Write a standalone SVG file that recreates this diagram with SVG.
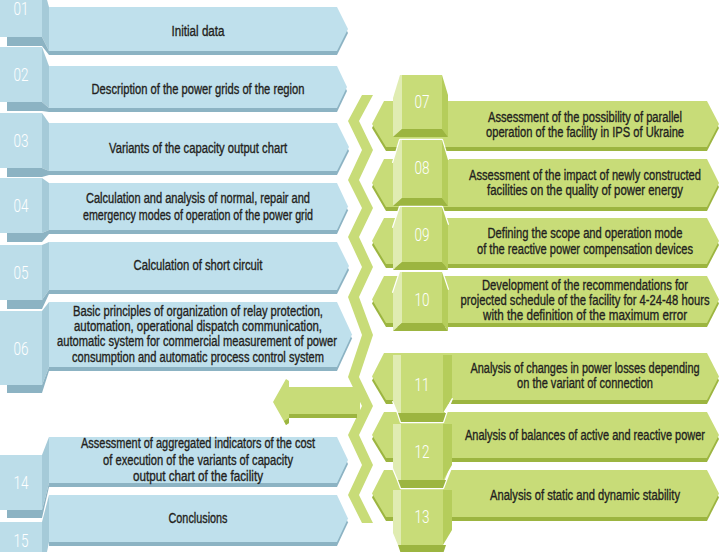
<svg xmlns="http://www.w3.org/2000/svg" width="720" height="552" viewBox="0 0 720 552">
<style>
.bb{fill:#bfe0ec}.bf{fill:#bcdde9}.bs{fill:#a5cad8}.bd{fill:#8cb3c3}
.gm{fill:#c8dc78}.gl{fill:#e0ecb2}.gb{fill:#b5cd5b}.gd{fill:#9cb540}
.edge{fill:none;stroke:#fff;stroke-width:2.4;stroke-linejoin:round}
.t{font-family:"Liberation Sans",Arial,sans-serif;font-size:14.5px;fill:#231f20;stroke:#231f20;stroke-width:0.35;text-anchor:middle}
.n{font-family:Roboto,"Liberation Sans",sans-serif;font-weight:300;font-size:17.5px;fill:#fff;text-anchor:middle}
</style>
<rect width="720" height="552" fill="#fff"/>

<!-- LEFT COLUMN -->
<g id="n01">
<polygon class="bd" points="49,11 337,11 348,33 337,55 49,55"/>
<polygon class="bb" points="49,7 337,7 348,29 337,51 49,51"/>
<rect class="bf" x="0" y="-18" width="42" height="55"/>
<polygon class="bs" points="42,-18 49,7 49,51 42,37"/>
<polygon class="bd" points="7,37 42,37 49,51 49,55 42,46 7,46"/>
<text class="n" x="21" y="15" textLength="15" lengthAdjust="spacingAndGlyphs">01</text>
<text class="t" transform="matrix(0.74 0 0 1 198 36)" textLength="71.6" lengthAdjust="spacingAndGlyphs">Initial data</text>
</g>
<g id="n02">
<polygon class="bd" points="49,70 337,70 347,91 337,112 49,112"/>
<polygon class="bb" points="49,66 337,66 347,87 337,108 49,108"/>
<rect class="bf" x="0" y="47" width="42" height="55"/>
<polygon class="bs" points="42,47 49,66 49,108 42,102"/>
<polygon class="bd" points="7,102 42,102 49,108 49,112 42,111 7,111"/>
<text class="n" x="21" y="81" textLength="15" lengthAdjust="spacingAndGlyphs">02</text>
<text class="t" transform="matrix(0.74 0 0 1 198 94)" textLength="287.8" lengthAdjust="spacingAndGlyphs">Description of the power grids of the region</text>
</g>
<g id="n03">
<polygon class="bd" points="49,127 337,127 349,151 337,175 49,175"/>
<polygon class="bb" points="49,123 337,123 349,147 337,171 49,171"/>
<rect class="bf" x="0" y="113" width="42" height="55"/>
<polygon class="bs" points="42,113 49,123 49,171 42,168"/>
<polygon class="bd" points="7,168 42,168 49,171 49,175 42,177 7,177"/>
<text class="n" x="21" y="147" textLength="15" lengthAdjust="spacingAndGlyphs">03</text>
<text class="t" transform="matrix(0.74 0 0 1 198 153)" textLength="240.5" lengthAdjust="spacingAndGlyphs">Variants of the capacity output chart</text>
</g>
<g id="n04">
<polygon class="bd" points="49,187 337,187 348,210.5 337,234 49,234"/>
<polygon class="bb" points="49,183 337,183 348,206.5 337,230 49,230"/>
<rect class="bf" x="0" y="178" width="42" height="55"/>
<polygon class="bs" points="42,178 49,183 49,230 42,233"/>
<polygon class="bd" points="7,233 42,233 49,230 49,234 42,242 7,242"/>
<text class="n" x="21" y="212" textLength="15" lengthAdjust="spacingAndGlyphs">04</text>
<text class="t" transform="matrix(0.74 0 0 1 198 203)" textLength="302.7" lengthAdjust="spacingAndGlyphs">Calculation and analysis of normal, repair and</text>
<text class="t" transform="matrix(0.74 0 0 1 198 220)" textLength="310.8" lengthAdjust="spacingAndGlyphs">emergency modes of operation of the power grid</text>
</g>
<g id="n05">
<polygon class="bd" points="49,246 337,246 349,270 337,294 49,294"/>
<polygon class="bb" points="49,242 337,242 349,266 337,290 49,290"/>
<rect class="bf" x="0" y="245" width="42" height="55"/>
<polygon class="bs" points="42,245 49,242 49,290 42,300"/>
<polygon class="bd" points="7,300 42,300 49,290 49,294 42,309 7,309"/>
<text class="n" x="21" y="279" textLength="15" lengthAdjust="spacingAndGlyphs">05</text>
<text class="t" transform="matrix(0.74 0 0 1 198 270)" textLength="174.3" lengthAdjust="spacingAndGlyphs">Calculation of short circuit</text>
</g>
<g id="n06">
<polygon class="bd" points="49,306 337,306 352,338.5 337,371 49,371"/>
<polygon class="bb" points="49,302 337,302 352,334.5 337,367 49,367"/>
<rect class="bf" x="0" y="311" width="42" height="74"/>
<polygon class="bs" points="42,311 49,302 49,367 42,385"/>
<polygon class="bd" points="7,385 42,385 49,367 49,371 42,393 7,393"/>
<text class="n" x="21" y="355" textLength="15" lengthAdjust="spacingAndGlyphs">06</text>
<text class="t" transform="matrix(0.74 0 0 1 198 316)" textLength="337.8" lengthAdjust="spacingAndGlyphs">Basic principles of organization of relay protection,</text>
<text class="t" transform="matrix(0.74 0 0 1 198 331)" textLength="335.1" lengthAdjust="spacingAndGlyphs">automation, operational dispatch communication,</text>
<text class="t" transform="matrix(0.74 0 0 1 197 346)" textLength="378.4" lengthAdjust="spacingAndGlyphs">automatic system for commercial measurement of power</text>
<text class="t" transform="matrix(0.74 0 0 1 198 362)" textLength="340.5" lengthAdjust="spacingAndGlyphs">consumption and automatic process control system</text>
</g>
<g id="n14">
<polygon class="bd" points="49,441 337,441 348,464 337,487 49,487"/>
<polygon class="bb" points="49,437 337,437 348,460 337,483 49,483"/>
<rect class="bf" x="0" y="455" width="42" height="55"/>
<polygon class="bs" points="42,455 49,437 49,483 42,510"/>
<polygon class="bd" points="7,510 42,510 49,483 49,487 42,518 7,518"/>
<text class="n" x="21" y="489" textLength="15" lengthAdjust="spacingAndGlyphs">14</text>
<text class="t" transform="matrix(0.74 0 0 1 198 448)" textLength="316.2" lengthAdjust="spacingAndGlyphs">Assessment of aggregated indicators of the cost</text>
<text class="t" transform="matrix(0.74 0 0 1 198 465)" textLength="256.8" lengthAdjust="spacingAndGlyphs">of execution of the variants of capacity</text>
<text class="t" transform="matrix(0.74 0 0 1 198 481)" textLength="175.7" lengthAdjust="spacingAndGlyphs">output chart of the facility</text>
</g>
<g id="n15">
<polygon class="bd" points="49,499 337,499 348,522.5 337,546 49,546"/>
<polygon class="bb" points="49,495 337,495 348,518.5 337,542 49,542"/>
<rect class="bf" x="0" y="522" width="42" height="55"/>
<polygon class="bs" points="42,522 49,495 49,542 42,577"/>
<text class="n" x="21" y="547" textLength="15" lengthAdjust="spacingAndGlyphs">15</text>
<text class="t" transform="matrix(0.74 0 0 1 198 523)" textLength="79.7" lengthAdjust="spacingAndGlyphs">Conclusions</text>
</g>

<!-- CONNECTORS: zigzag band and return arrow -->
<g id="connectors">
<polygon class="gm" points="362,95 348,121 362,150 348,180 362,208 348,237 362,267 348,297 362,335 348,377 362,406 348,435 362,465 348,495 362,523 373,523 359,495 373,465 359,435 373,406 359,377 373,335 359,297 373,267 359,237 373,208 359,180 373,150 359,121 373,95"/>
<polygon class="gm" points="273,402 286,379 289,381 289,387 360,387 360,418 289,418 289,423 286,425"/>
<polygon class="gd" points="289,414 357,414 357,418 289,418"/>
<polygon class="gd" points="286,425 289,423 289,418 284,421"/>
</g>

<!-- RIGHT COLUMN (top group) -->
<g id="n07">
<polygon class="gd" points="384,105 707,105 719,128 707,151 386,151 372,128"/>
<polygon class="gm" points="384,101 707,101 719,124 707,147 386,147 372,124"/>
<polyline class="edge" points="393,98 400,75 442,75 448,95"/>
<polygon class="gl" points="400,75 402,75 402,129 393,137 393,98"/>
<rect class="gm" x="402" y="75" width="40" height="54"/>
<polygon class="gb" points="442,75 448,95 448,137 442,129"/>
<polygon class="gd" points="402,129 442,129 448,137 393,137"/>
<text class="n" x="422" y="108" textLength="15" lengthAdjust="spacingAndGlyphs">07</text>
<text class="t" transform="matrix(0.74 0 0 1 585 122)" textLength="262.2" lengthAdjust="spacingAndGlyphs">Assessment of the possibility of parallel</text>
<text class="t" transform="matrix(0.74 0 0 1 585 137)" textLength="267.6" lengthAdjust="spacingAndGlyphs">operation of the facility in IPS of Ukraine</text>
</g>
<g id="n08">
<polygon class="gd" points="384,163 707,163 719,187 707,211 386,211 372,187"/>
<polygon class="gm" points="384,159 707,159 719,183 707,207 386,207 372,183"/>
<polyline class="edge" points="393,163 400,140 442,140 448,160"/>
<polygon class="gl" points="400,140 402,140 402,198 393,206 393,163"/>
<rect class="gm" x="402" y="140" width="40" height="58"/>
<polygon class="gb" points="442,140 448,160 448,206 442,198"/>
<polygon class="gd" points="402,198 442,198 448,206 393,206"/>
<text class="n" x="422" y="174" textLength="15" lengthAdjust="spacingAndGlyphs">08</text>
<text class="t" transform="matrix(0.74 0 0 1 585 180)" textLength="313.5" lengthAdjust="spacingAndGlyphs">Assessment of the impact of newly constructed</text>
<text class="t" transform="matrix(0.74 0 0 1 585 195)" textLength="264.9" lengthAdjust="spacingAndGlyphs">facilities on the quality of power energy</text>
</g>
<g id="n09">
<polygon class="gd" points="384,222 707,222 719,245 707,268 386,268 372,245"/>
<polygon class="gm" points="384,218 707,218 719,241 707,264 386,264 372,241"/>
<polyline class="edge" points="393,228 400,207 442,207 448,225"/>
<polygon class="gl" points="400,207 402,207 402,262 393,270 393,228"/>
<rect class="gm" x="402" y="207" width="40" height="55"/>
<polygon class="gb" points="442,207 448,225 448,270 442,262"/>
<polygon class="gd" points="402,262 442,262 448,270 393,270"/>
<text class="n" x="422" y="241" textLength="15" lengthAdjust="spacingAndGlyphs">09</text>
<text class="t" transform="matrix(0.74 0 0 1 585 238)" textLength="263.5" lengthAdjust="spacingAndGlyphs">Defining the scope and operation mode</text>
<text class="t" transform="matrix(0.74 0 0 1 585 254)" textLength="291.9" lengthAdjust="spacingAndGlyphs">of the reactive power compensation devices</text>
</g>
<g id="n10">
<polygon class="gd" points="384,280 707,280 719,303.5 707,327 386,327 372,303.5"/>
<polygon class="gm" points="384,276 707,276 719,299.5 707,323 386,323 372,299.5"/>
<polyline class="edge" points="393,293 400,272 442,272 448,290"/>
<polygon class="gl" points="400,272 402,272 402,323 393,331 393,293"/>
<rect class="gm" x="402" y="272" width="40" height="51"/>
<polygon class="gb" points="442,272 448,290 448,331 442,323"/>
<polygon class="gd" points="402,323 442,323 448,331 393,331"/>
<text class="n" x="422" y="306" textLength="15" lengthAdjust="spacingAndGlyphs">10</text>
<text class="t" transform="matrix(0.74 0 0 1 585 290)" textLength="278.4" lengthAdjust="spacingAndGlyphs">Development of the recommendations for</text>
<text class="t" transform="matrix(0.74 0 0 1 585 305)" textLength="336.5" lengthAdjust="spacingAndGlyphs">projected schedule of the facility for 4-24-48 hours</text>
<text class="t" transform="matrix(0.74 0 0 1 585 320)" textLength="275.7" lengthAdjust="spacingAndGlyphs">with the definition of the maximum error</text>
</g>

<!-- RIGHT COLUMN (bottom group, drawn bottom-up) -->
<g id="n13">
<polygon class="gd" points="384,474 707,474 719,497.5 707,521 386,521 372,497.5"/>
<polygon class="gm" points="384,470 707,470 719,493.5 707,517 386,517 372,493.5"/>
<polyline class="edge" points="393,533 398,545 401,554 443,554 446,545 452,530"/>
<polygon class="gl" points="393,490 401,490 401,545 398,545 393,533"/>
<rect class="gm" x="401" y="490" width="42" height="55"/>
<polygon class="gb" points="443,490 452,490 452,530 443,545"/>
<polygon class="gd" points="398,545 446,545 443,554 401,554"/>
<text class="n" x="422" y="523" textLength="15" lengthAdjust="spacingAndGlyphs">13</text>
<text class="t" transform="matrix(0.74 0 0 1 585 500)" textLength="256.8" lengthAdjust="spacingAndGlyphs">Analysis of static and dynamic stability</text>
</g>
<g id="n12">
<polygon class="gd" points="384,416 707,416 719,439 707,462 386,462 372,439"/>
<polygon class="gm" points="384,412 707,412 719,435 707,458 386,458 372,435"/>
<polyline class="edge" points="393,468 398,480 401,488 443,488 446,480 452,465"/>
<polygon class="gl" points="393,424 401,424 401,480 398,480 393,468"/>
<rect class="gm" x="401" y="424" width="42" height="56"/>
<polygon class="gb" points="443,424 452,424 452,465 443,480"/>
<polygon class="gd" points="398,480 446,480 443,488 401,488"/>
<text class="n" x="422" y="458" textLength="15" lengthAdjust="spacingAndGlyphs">12</text>
<text class="t" transform="matrix(0.74 0 0 1 585 440)" textLength="324.3" lengthAdjust="spacingAndGlyphs">Analysis of balances of active and reactive power</text>
</g>
<g id="n11">
<polygon class="gd" points="384,357 707,357 719,380.5 707,404 386,404 372,380.5"/>
<polygon class="gm" points="384,353 707,353 719,376.5 707,400 386,400 372,376.5"/>
<polyline class="edge" points="393,401 398,413 401,422 443,422 446,413 452,398"/>
<polygon class="gl" points="393,355 401,355 401,413 398,413 393,401"/>
<rect class="gm" x="401" y="355" width="42" height="58"/>
<polygon class="gb" points="443,355 452,355 452,398 443,413"/>
<polygon class="gd" points="398,413 446,413 443,422 401,422"/>
<text class="n" x="422" y="391" textLength="15" lengthAdjust="spacingAndGlyphs">11</text>
<text class="t" transform="matrix(0.74 0 0 1 585 373)" textLength="309.5" lengthAdjust="spacingAndGlyphs">Analysis of changes in power losses depending</text>
<text class="t" transform="matrix(0.74 0 0 1 585 388)" textLength="183.8" lengthAdjust="spacingAndGlyphs">on the variant of connection</text>
</g>
</svg>
